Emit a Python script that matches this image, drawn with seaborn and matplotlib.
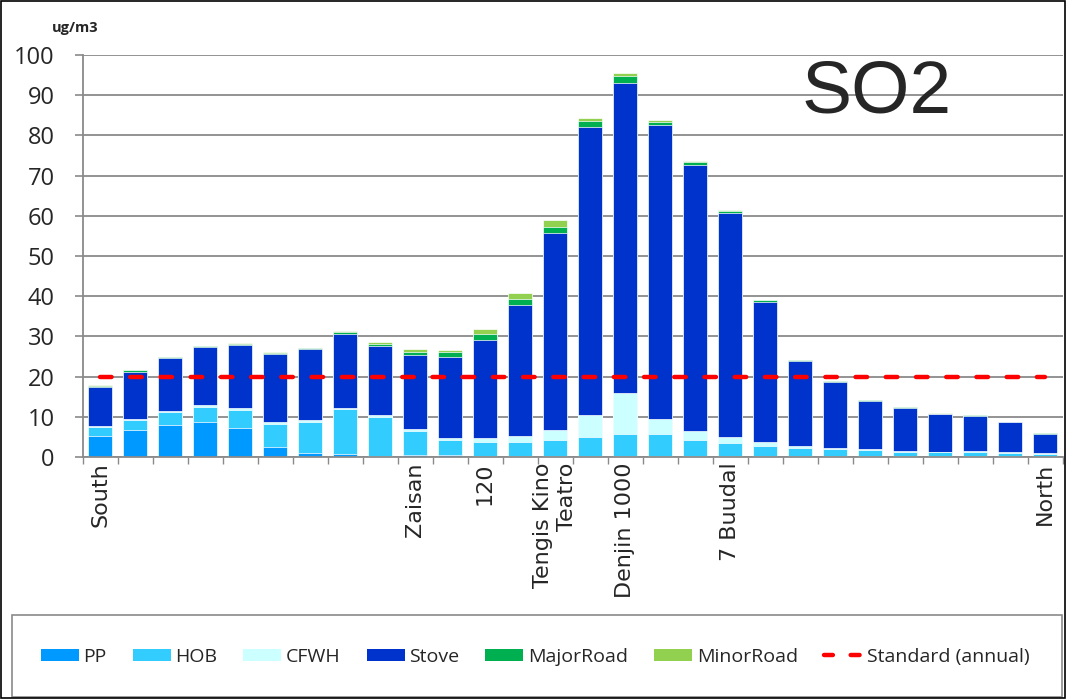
import numpy as np
import pandas as pd
import matplotlib
matplotlib.use("Agg")
import matplotlib.pyplot as plt
from matplotlib.patches import Patch, Rectangle
from matplotlib.lines import Line2D
import seaborn as sns

# Monitoring sites from south to north (only some are named on the axis)
site_labels = ["South", "", "", "", "", "", "", "", "", "Zaisan", "", "120", "",
               "Tengis Kino\nTeatro", "", "Denjin 1000", "", "", "7 Buudal", "",
               "", "", "", "", "", "", "", "North"]

# SO2 source contributions, ug/m3
pp = [5.3, 6.7, 7.9, 8.6, 7.2, 2.5, 1.1, 0.8, 0.3, 0.4, 0.4, 0.3, 0.3, 0.3,
      0.2, 0.2, 0.2, 0.2, 0.2, 0.2, 0.15, 0.15, 0.3, 0.3, 0.3, 0.3, 0.3, 0.2]
hob = [2.2, 2.5, 3.3, 3.9, 4.6, 5.8, 7.6, 11.1, 9.7, 6.0, 3.8, 3.4, 3.4, 3.9,
       4.8, 5.5, 5.5, 4.0, 3.3, 2.5, 2.1, 1.75, 1.4, 1.0, 0.9, 0.9, 0.8, 0.55]
cfwh = [0.2, 0.3, 0.3, 0.4, 0.4, 0.4, 0.4, 0.4, 0.4, 0.5, 0.5, 1.1, 1.5, 2.6,
        5.4, 10.1, 3.7, 2.3, 1.5, 1.05, 0.45, 0.4, 0.2, 0.2, 0.1, 0.2, 0.15, 0.15]
stove = [9.8, 11.7, 13.1, 14.4, 15.6, 16.9, 17.7, 18.3, 17.1, 18.5, 20.1, 24.2,
         32.7, 49.0, 71.8, 77.3, 73.2, 66.1, 55.8, 34.8, 21.3, 16.45, 12.0,
         10.7, 9.4, 8.85, 7.35, 4.9]
major_road = [0.2, 0.4, 0.3, 0.3, 0.4, 0.3, 0.3, 0.5, 0.6, 0.8, 1.2, 1.5, 1.5,
              1.5, 1.4, 1.6, 0.8, 0.7, 0.5, 0.4, 0.2, 0.2, 0.2, 0.15, 0.1, 0.15,
              0.15, 0.15]
minor_road = [0.1, 0.1, 0.1, 0.1, 0.1, 0.1, 0.1, 0.3, 0.4, 0.6, 0.7, 1.3, 1.4,
              1.7, 0.8, 0.7, 0.35, 0.4, 0.2, 0.2, 0.05, 0.05, 0.05, 0.05, 0.05,
              0.05, 0.05, 0.05]
STANDARD = 20  # annual standard, ug/m3

sources = ["PP", "HOB", "CFWH", "Stove", "MajorRoad", "MinorRoad"]
colors = ["#0099FF", "#33CCFF", "#CCFFFF", "#0033CC", "#00B050", "#92D050"]

sns.set_theme(style="white")
plt.rcParams["font.family"] = ["Open Sans", "DejaVu Sans"]

df = pd.DataFrame({"site": range(len(site_labels)), "PP": pp, "HOB": hob,
                   "CFWH": cfwh, "Stove": stove, "MajorRoad": major_road,
                   "MinorRoad": minor_road})
stacked = df[sources].cumsum(axis=1)
stacked["site"] = df["site"]

fig = plt.figure(figsize=(10.67, 6.99), dpi=100)
W, H = 1067, 699
ax = fig.add_axes([82.5 / W, 1 - 457 / H, 980 / W, 402 / H])

# stacked bars: draw running totals from the top source down
for src, col in reversed(list(zip(sources, colors))):
    sns.barplot(data=stacked, x="site", y=src, color=col, saturation=1,
                width=0.68, errorbar=None, edgecolor="white", linewidth=0.5,
                ax=ax)

std = pd.DataFrame({"site": df["site"], "value": [STANDARD] * len(df)})
sns.lineplot(data=std, x="site", y="value", color="#FF0000", lw=3.2, ax=ax)
std_line = ax.lines[-1]
std_line.set_dashes([2.6, 4.2])
std_line.set_dash_capstyle("round")

grid_c = "#8a8a8a"
ax.set_xlim(-0.5, len(df) - 0.5)
ax.set_ylim(0, 100)
ax.set_yticks(np.arange(0, 101, 10))
ax.yaxis.grid(True, color=grid_c, lw=1.3)
ax.xaxis.grid(False)
ax.set_axisbelow(True)
for s in ["top", "right"]:
    ax.spines[s].set_visible(False)
for s in ["left", "bottom"]:
    ax.spines[s].set_color(grid_c)
    ax.spines[s].set_linewidth(1.3)
ax.set_xlabel("")
ax.set_ylabel("")

ax.tick_params(axis="y", direction="out", length=6, width=1.2, color=grid_c,
               pad=14, labelsize=17, left=True)
ax.set_xticks(range(len(df)))
ax.set_xticklabels(site_labels, rotation=90, fontsize=16,
                   fontfamily="DejaVu Sans", ha="center", va="top",
                   multialignment="right")
ax.set_xticks(np.arange(-0.5, len(df), 1), minor=True)
ax.tick_params(axis="x", which="major", length=0, pad=4)
ax.tick_params(axis="x", which="minor", direction="out", length=5, width=1,
               color=grid_c, bottom=True)

fig.text(75 / W, 1 - 28 / H, "ug/m3", ha="center", va="center",
         fontsize=10.5, fontweight="bold")
fig.text(877 / W, 1 - 93 / H, "SO2", ha="center", va="center", fontsize=54,
         family="Liberation Sans")

handles = [Patch(facecolor=c, edgecolor="none") for c in colors]
handles.append(Line2D([0], [0], color="#FF0000", lw=3.2, dashes=[2.0, 4.0],
                      dash_capstyle="round"))
labels = sources + ["Standard (annual)"]
fig.legend(handles, labels, loc="center", bbox_to_anchor=(535 / W, 1 - 657 / H),
           ncol=7, frameon=False, fontsize=14, handlelength=1.95,
           handleheight=0.6, handletextpad=0.25, columnspacing=1.33)

fig.add_artist(Rectangle((12 / W, 1 - 697 / H), 1050 / W, 82 / H,
                         transform=fig.transFigure, fill=False,
                         edgecolor="#8a8a8a", lw=1.2))
fig.add_artist(Rectangle((1 / W, 1 / H), 1064 / W, 697 / H,
                         transform=fig.transFigure, fill=False,
                         edgecolor="black", lw=1.2))

fig.savefig("out.png", dpi=100)
